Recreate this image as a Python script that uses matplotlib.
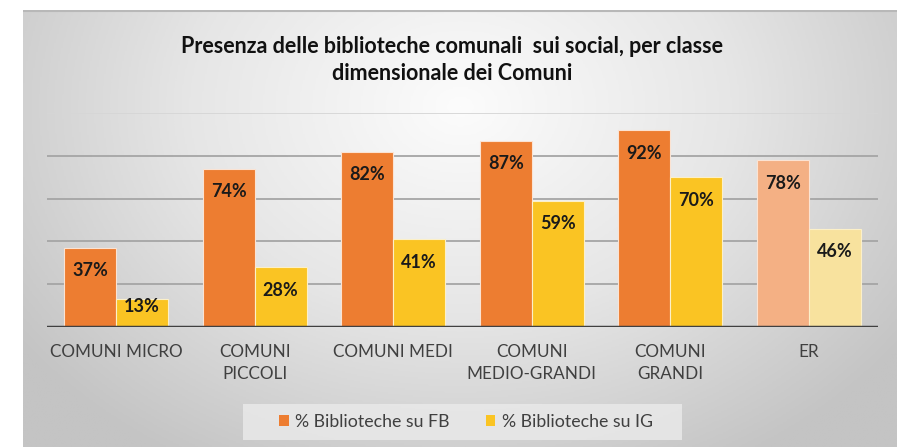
import numpy as np
import matplotlib.pyplot as plt
from matplotlib.colors import LinearSegmentedColormap
from matplotlib.patches import Rectangle

categories = ['COMUNI MICRO', 'COMUNI\nPICCOLI', 'COMUNI MEDI', 'COMUNI\nMEDIO-GRANDI',
              'COMUNI\nGRANDI', 'ER']
fb = [37, 74, 82, 87, 92, 78]
ig = [13, 28, 41, 59, 70, 46]
series_names = ['% Biblioteche su FB', '% Biblioteche su IG']
title = 'Presenza delle biblioteche comunali  sui social, per classe\ndimensionale dei Comuni'

fb_colors = ['#ED7D31'] * 5 + ['#F4B084']
ig_colors = ['#FAC423'] * 5 + ['#F8E29E']

plt.rcParams['font.family'] = ['Lato', 'DejaVu Sans']


def main():
    fig = plt.figure(figsize=(8.97, 4.47), dpi=100)
    fig.patch.set_facecolor('white')

    # card background with radial gradient
    bg = fig.add_axes([23 / 897, 0, 874 / 897, 437 / 447])
    yy, xx = np.mgrid[0:1:300j, 0:1:600j]
    r = np.sqrt(((xx - 0.5) / 0.62) ** 2 + ((yy - 0.22) / 0.95) ** 2)
    cmap = LinearSegmentedColormap.from_list('bg', ['#FCFCFC', '#E6E6E6', '#C4C4C4'])
    bg.imshow(np.clip(r, 0, 1), cmap=cmap, aspect='auto', extent=[0, 1, 1, 0],
              vmin=0, vmax=1)
    bg.plot([0, 1], [0.002, 0.002], color='#B8B8B8', lw=1.5)
    bg.set_xlim(0, 1)
    bg.set_ylim(1, 0)
    bg.axis('off')

    ax = fig.add_axes([47 / 897, (447 - 327) / 447, (878 - 47) / 897, (327 - 113) / 447])
    ax.set_facecolor('none')
    x = np.arange(len(categories))
    w = 0.375
    b1 = ax.bar(x - w / 2, fb, w, color=fb_colors, edgecolor='#FBE3D3', linewidth=0.8,
                label=series_names[0], zorder=3)
    b2 = ax.bar(x + w / 2, ig, w, color=ig_colors, edgecolor='#FCF0C8', linewidth=0.8,
                label=series_names[1], zorder=3)

    for bars, vals in ((b1, fb), (b2, ig)):
        for bar, v in zip(bars, vals):
            ax.text(bar.get_x() + bar.get_width() / 2, max(v - 10.8, 9.4), f'{v}%',
                    ha='center', va='center', fontsize=13, fontweight='bold',
                    color='#1A1A1A', zorder=4)

    ax.set_xlim(-0.5, len(categories) - 0.5)
    ax.set_ylim(0, 100)
    ax.set_yticks([])
    for g in (20, 40, 60, 80):
        ax.axhline(g, color='#A5A5A5', lw=1.3, zorder=1)
    ax.axhline(100, color='#D6D6D6', lw=1.3, zorder=1)
    ax.axhline(0, color='#404040', lw=2.5, zorder=5)
    for s in ax.spines.values():
        s.set_visible(False)

    ax.set_xticks(x)
    ax.set_xticklabels(categories, fontsize=12.3, color='#404040', linespacing=1.45,
                       va='top')
    ax.tick_params(axis='x', length=0, pad=12)

    fig.text(452 / 897, 1 - 60 / 447, title, ha='center', va='center', fontsize=15.5,
             fontweight='bold', color='#111111', linespacing=1.35)

    # legend background box
    fig.patches.append(Rectangle((243 / 897, 1 - 440 / 447), 439 / 897, 36 / 447,
                                 transform=fig.transFigure, facecolor='#E9E9E9',
                                 edgecolor='none', alpha=0.85, zorder=1))
    leg = fig.legend(handles=[b1[0], b2[0]], labels=series_names, loc='center',
                     bbox_to_anchor=(466 / 897, 1 - 422 / 447), ncol=2, frameon=False,
                     fontsize=12.8, handlelength=0.55, handleheight=0.55,
                     handletextpad=0.35, columnspacing=2.0)
    for t in leg.get_texts():
        t.set_color('#404040')
    for h in leg.legend_handles:
        h.set_edgecolor('none')

    fig.savefig('out.png', dpi=100)


if __name__ == "__main__":
    main()
